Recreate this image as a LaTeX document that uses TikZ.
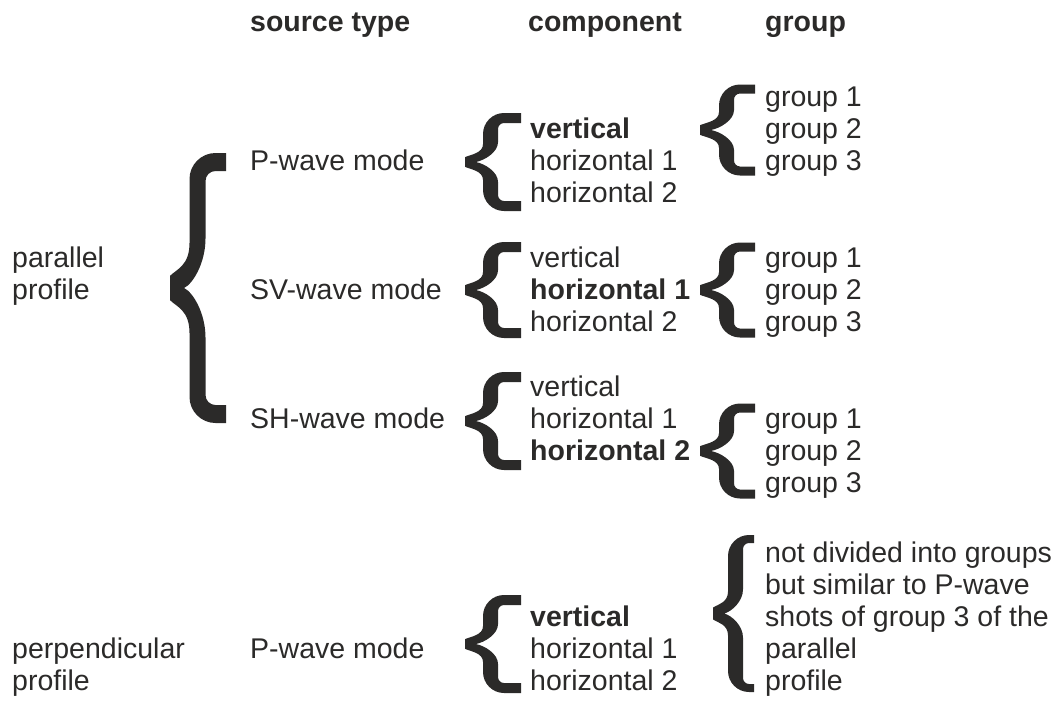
\documentclass[tikz,border=0pt]{standalone}
\usepackage{fontspec}
\setmainfont{Liberation Sans}
\definecolor{ink}{RGB}{43,42,41}

% Filled curly brace opening to the right.
% #1 tip x, #2 tip y, #3 x of the centre of the upright stroke,
% #4 x of the tail ends, #5 distance from tip to tail centres,
% #6 width of the upright stroke, #7 thickness of the tails,
% #8 inner corner radius, #9 length of the tip bend
\newcommand{\curlybrace}[9]{%
  \pgfmathsetmacro\brXo{#3-#6/2}%          outer edge of the upright
  \pgfmathsetmacro\brXi{#3+#6/2}%          inner edge of the upright
  \pgfmathsetmacro\brRo{#8+#6}%            outer corner radius
  \pgfmathsetmacro\brF{0.27*#9}%           half height of the flat tip
  \pgfmathsetmacro\brD{#1+0.6*#6+0.1*#9}%  x of the inner notch
  \pgfmathsetmacro\brTi{1.1*#9}%
  \pgfmathsetmacro\brTo{#2-#5-#7/2}%       top edge of the upper tail
  \pgfmathsetmacro\brTu{#2-#5+#7/2}%       lower edge of the upper tail
  \pgfmathsetmacro\brBo{#2+#5+#7/2}%       bottom edge of the lower tail
  \pgfmathsetmacro\brBu{#2+#5-#7/2}%       upper edge of the lower tail
  \fill[bracefill]
    % outer side, top to bottom
    (#4,\brTo) -- ({\brXo+\brRo},\brTo)
    .. controls ({\brXo+0.45*\brRo},\brTo) and (\brXo,{\brTo+0.45*\brRo}) .. (\brXo,{\brTo+\brRo})
    -- (\brXo,{#2-#9})
    .. controls (\brXo,{#2-0.5*#9}) and ({#1+0.35*(\brXo-#1)},{#2-\brF-0.15*#9}) .. (#1,{#2-\brF})
    -- (#1,{#2+\brF})
    .. controls ({#1+0.35*(\brXo-#1)},{#2+\brF+0.15*#9}) and (\brXo,{#2+0.5*#9}) .. (\brXo,{#2+#9})
    -- (\brXo,{\brBo-\brRo})
    .. controls (\brXo,{\brBo-0.45*\brRo}) and ({\brXo+0.45*\brRo},\brBo) .. ({\brXo+\brRo},\brBo)
    -- (#4,\brBo) -- (#4,\brBu)
    % inner side, bottom to top
    -- ({\brXi+#8},\brBu)
    .. controls ({\brXi+0.45*#8},\brBu) and (\brXi,{\brBu-0.45*#8}) .. (\brXi,{\brBu-#8})
    -- (\brXi,{#2+\brTi})
    .. controls (\brXi,{#2+0.5*\brTi}) and ({\brD+0.4*(\brXi-\brD)},{#2+0.08*\brTi}) .. (\brD,#2)
    .. controls ({\brD+0.4*(\brXi-\brD)},{#2-0.08*\brTi}) and (\brXi,{#2-0.5*\brTi}) .. (\brXi,{#2-\brTi})
    -- (\brXi,{\brTu+#8})
    .. controls (\brXi,{\brTu+0.45*#8}) and ({\brXi+0.45*#8},\brTu) .. ({\brXi+#8},\brTu)
    -- (#4,\brTu) -- cycle;}

\begin{document}
\begin{tikzpicture}[x=1pt,y=-1pt,
  txt/.style={anchor=base west,inner sep=0pt,text=ink,font=\fontsize{28.5}{32}\selectfont},
  head/.style={txt,font=\fontsize{28.5}{32}\selectfont\bfseries},
  bracefill/.style={fill=ink}]
\useasboundingbox (0,0) rectangle (1059,702);

% column headings
\node[head] (hsrc) at (250,31) {source type};
\node[head] (hcmp) at (528,31) {component};
\node[head] (hgrp) at (765,31) {group};

% profiles
\node[txt] (par1) at (12,267) {parallel};
\node[txt] (par2) at (12,299) {profile};
\node[txt] (per1) at (12,658) {perpendicular};
\node[txt] (per2) at (12,690) {profile};

% source types
\node[txt] (sp) at (250,170) {P-wave mode};
\node[txt] (ssv) at (250,299) {SV-wave mode};
\node[txt] (ssh) at (250,428) {SH-wave mode};
\node[txt] (spp) at (250,658) {P-wave mode};

% components
\node[txt] (c1v) at (530,138) {\bfseries vertical};
\node[txt] (c1a) at (530,170) {horizontal 1};
\node[txt] (c1b) at (530,202) {horizontal 2};
\node[txt] (c2v) at (530,267) {vertical};
\node[txt] (c2a) at (530,299) {\bfseries horizontal 1};
\node[txt] (c2b) at (530,331) {horizontal 2};
\node[txt] (c3v) at (530,396) {vertical};
\node[txt] (c3a) at (530,428) {horizontal 1};
\node[txt] (c3b) at (530,460) {\bfseries horizontal 2};
\node[txt] (c4v) at (530,626) {\bfseries vertical};
\node[txt] (c4a) at (530,658) {horizontal 1};
\node[txt] (c4b) at (530,690) {horizontal 2};

% groups
\node[txt] (g1a) at (765,106) {group 1};
\node[txt] (g1b) at (765,138) {group 2};
\node[txt] (g1c) at (765,170) {group 3};
\node[txt] (g2a) at (765,267) {group 1};
\node[txt] (g2b) at (765,299) {group 2};
\node[txt] (g2c) at (765,331) {group 3};
\node[txt] (g3a) at (765,428) {group 1};
\node[txt] (g3b) at (765,460) {group 2};
\node[txt] (g3c) at (765,492) {group 3};
\node[txt] (n1) at (765,562) {not divided into groups};
\node[txt] (n2) at (765,594) {but similar to P-wave};
\node[txt] (n3) at (765,626) {shots of group 3 of the};
\node[txt] (n4) at (765,658) {parallel};
\node[txt] (n5) at (765,690) {profile};

% braces
\curlybrace{170}{288}{197.5}{226}{126}{16}{18}{10}{45}
\curlybrace{465}{162}{490.5}{521}{44}{15}{10}{6}{18}
\curlybrace{465}{290}{490.5}{521}{43}{15}{10}{6}{18}
\curlybrace{465}{421}{490.5}{521}{44}{15}{10}{6}{18}
\curlybrace{465}{644}{490.5}{521}{44}{15}{10}{6}{18}
\curlybrace{700}{130}{726.5}{755}{41}{15}{9}{6}{18}
\curlybrace{700}{290}{726.5}{755}{43}{15}{9}{6}{18}
\curlybrace{700}{451}{726.5}{755}{43}{15}{9}{6}{18}
\curlybrace{713}{613.5}{735.5}{754}{74.5}{15}{8}{6}{22}
\end{tikzpicture}
\end{document}
